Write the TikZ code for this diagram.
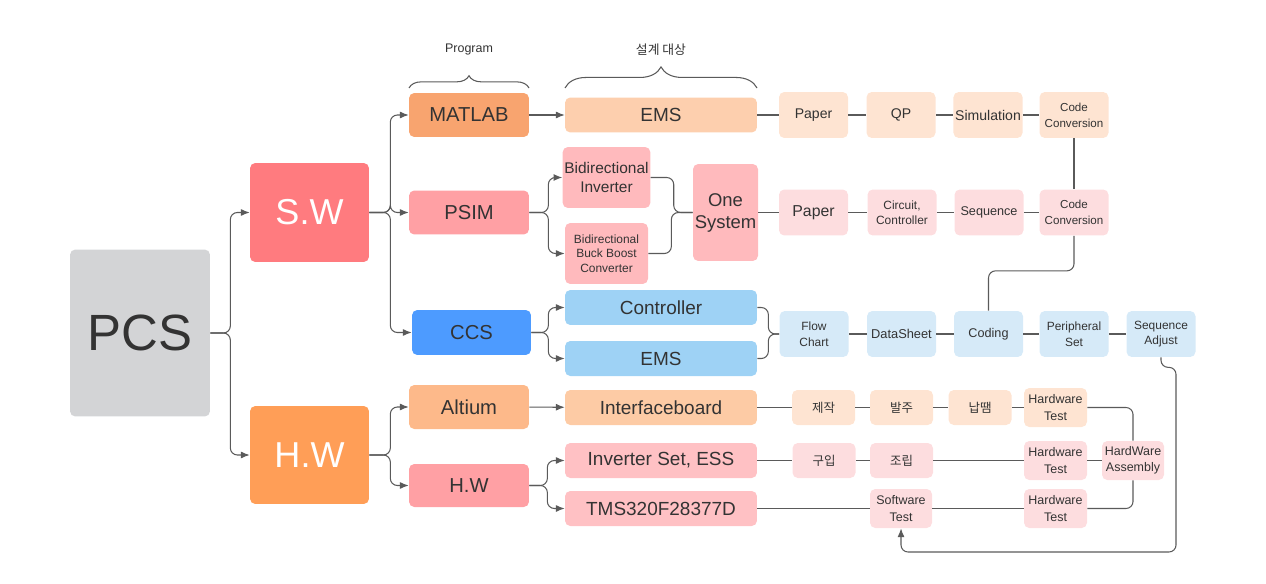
\documentclass[tikz,border=0pt]{standalone}
\usepackage{fontspec}
\setmainfont{Liberation Sans}
\newfontfamily\hangul{Noto Sans CJK KR}
\usetikzlibrary{arrows.meta, decorations.pathreplacing}

\definecolor{txt}{HTML}{333333}
\definecolor{wire}{HTML}{5A5A5A}
\definecolor{pcsgray}{HTML}{D3D4D6}
\definecolor{swred}{HTML}{FF7B7F}
\definecolor{hworange}{HTML}{FF9E57}
\definecolor{matorange}{HTML}{F8A46F}
\definecolor{psimpink}{HTML}{FFA0A4}
\definecolor{ccsblue}{HTML}{4D9BFF}
\definecolor{altpeach}{HTML}{FDB98A}
\definecolor{emspeach}{HTML}{FDCFAE}
\definecolor{invpink}{HTML}{FFBABD}
\definecolor{ctrlblue}{HTML}{9ED2F5}
\definecolor{ifpeach}{HTML}{FDCBA5}
\definecolor{setpink}{HTML}{FFC1C4}
\definecolor{peachrow}{HTML}{FEE4D2}
\definecolor{pinkrow}{HTML}{FDDDDF}
\definecolor{bluerow}{HTML}{D6EAF8}

\begin{document}
\begin{tikzpicture}[x = 0.02cm, y = -0.02cm,
        box/.style = {rounded corners = 3pt, inner sep = 1pt, align = center, text = txt},
        root/.style = {box, font = \fontsize{29}{34}\selectfont},
        branch/.style = {box, text = white, minimum width = 2.38cm, font = \fontsize{20.5}{24}\selectfont},
        tool/.style = {box, minimum width = 2.4cm, minimum height = 0.88cm, font = \fontsize{11.5}{14}\selectfont},
        target/.style = {box, minimum width = 3.84cm, minimum height = 0.7cm, font = \fontsize{10.8}{13}\selectfont},
        stepbox/.style = {box, minimum width = 1.38cm, minimum height = 0.92cm, font = \fontsize{6.8}{8.8}\selectfont},
        task/.style = {box, minimum width = 1.26cm, minimum height = 0.7cm, font = \fontsize{7.1}{9.3}\selectfont},
        line/.style = {draw = wire, line width = 0.6pt, rounded corners = 4pt},
        arrow/.style = {line, -{Latex[length = 5pt, width = 4pt]}},
        curly/.style = {draw = wire, line width = 0.6pt, decorate}]
    \useasboundingbox (0,0) rectangle (1266,584);

    % Draw the tree on the left:
    \node [root, fill = pcsgray, minimum width = 2.8cm, minimum height = 3.34cm] (PCS) at (140,333) {PCS};
    \node [branch, fill = swred, minimum height = 1.98cm] (SW) at (309.5,212.5) {S.W};
    \node [branch, fill = hworange, minimum height = 1.96cm] (HW) at (309.5,455) {H.W};

    \node [tool, fill = matorange] (MATLAB) at (469,115) {MATLAB};
    \node [tool, fill = psimpink] (PSIM) at (469,212.5) {PSIM};
    \node [tool, fill = ccsblue, minimum width = 2.38cm, minimum height = 0.9cm] (CCS) at (471.5,332.5) {CCS};
    \node [tool, fill = altpeach] (Altium) at (469,407) {Altium};
    \node [tool, fill = psimpink, minimum height = 0.86cm] (HWtool) at (469,485.5) {H.W};

    % Draw the design targets:
    \node [target, fill = emspeach] (EMS) at (661,115) {EMS};
    \node [box, fill = invpink, minimum width = 1.66cm, minimum height = 1.22cm,
        font = \fontsize{8.8}{10.4}\selectfont] (BiInv) at (606.5,177.5) {Bidirectional\\Inverter};
    \node [box, fill = invpink, minimum width = 1.66cm, minimum height = 1.22cm,
        font = \fontsize{6.8}{8.4}\selectfont] (BiBuck) at (606.5,253.5) {Bidirectional\\Buck Boost\\Converter};
    \node [box, fill = invpink, minimum width = 1.26cm, minimum height = 1.94cm,
        font = \fontsize{10.5}{12.5}\selectfont] (One) at (725.5,212.5) {One\\System};
    \node [target, fill = ctrlblue] (Ctrl) at (661,307.5) {Controller};
    \node [target, fill = ctrlblue] (EMSc) at (661,358.5) {EMS};
    \node [target, fill = ifpeach] (Iface) at (661,407.5) {Interfaceboard};
    \node [target, fill = setpink] (InvSet) at (661,460.5) {Inverter Set, ESS};
    \node [target, fill = setpink] (TMS) at (661,508.5) {TMS320F28377D};

    % Draw the work steps:
    \node [stepbox, fill = peachrow, font = \fontsize{8}{10}\selectfont] (PaperA) at (813.5,115) {Paper};
    \node [stepbox, fill = peachrow, font = \fontsize{8}{10}\selectfont] (QP) at (901,115) {QP};
    \node [stepbox, fill = peachrow, font = \fontsize{8}{10}\selectfont] (Sim) at (988,115) {Simulation};
    \node [stepbox, fill = peachrow, font = \fontsize{6.6}{9}\selectfont] (CodeA) at (1074,115) {Code\\Conversion};

    \node [stepbox, fill = pinkrow, font = \fontsize{9}{11}\selectfont] (PaperB) at (813.5,212.5) {Paper};
    \node [stepbox, fill = pinkrow] (Circ) at (902,212.5) {Circuit,\\Controller};
    \node [stepbox, fill = pinkrow, font = \fontsize{7.2}{9}\selectfont] (Seq) at (989,212.5) {Sequence};
    \node [stepbox, fill = pinkrow, font = \fontsize{6.6}{9}\selectfont] (CodeB) at (1074,212.5) {Code\\Conversion};

    \node [stepbox, fill = bluerow] (Flow) at (814,334) {Flow\\Chart};
    \node [stepbox, fill = bluerow, font = \fontsize{7.3}{9}\selectfont] (Data) at (901.5,334) {DataSheet};
    \node [stepbox, fill = bluerow, font = \fontsize{7.2}{9}\selectfont] (Coding) at (988.5,334) {Coding};
    \node [stepbox, fill = bluerow] (Peri) at (1074,334) {Peripheral\\Set};
    \node [stepbox, fill = bluerow] (SeqAdj) at (1161,334) {Sequence\\Adjust};

    \node [task, fill = peachrow] (Make) at (823.5,407.5) {\hangul 제작};
    \node [task, fill = peachrow] (Order) at (901.5,407.5) {\hangul 발주};
    \node [task, fill = peachrow] (Solder) at (980,407.5) {\hangul 납땜};
    \node [task, fill = peachrow, minimum height = 0.78cm] (HWTa) at (1055.5,407.5) {Hardware\\Test};

    \node [task, fill = pinkrow] (Buy) at (824,460.5) {\hangul 구입};
    \node [task, fill = pinkrow] (Build) at (901.5,460.5) {\hangul 조립};
    \node [task, fill = pinkrow, minimum height = 0.78cm] (HWTb) at (1055.5,460.5) {Hardware\\Test};
    \node [task, fill = pinkrow, minimum width = 1.24cm, minimum height = 0.78cm] (Asm) at (1133,460.5) {HardWare\\Assembly};

    \node [task, fill = pinkrow, minimum width = 1.24cm, minimum height = 0.78cm] (SWT) at (901,508.5) {Software\\Test};
    \node [task, fill = pinkrow, minimum height = 0.78cm] (HWTc) at (1055.5,508.5) {Hardware\\Test};

    % Draw the braces on top:
    \draw [curly, decoration = {brace, amplitude = 7pt}] (409,88) -- (529,88);
    \draw [curly, decoration = {brace, amplitude = 12pt}] (565,88) -- (757,88);
    \node [box, font = \fontsize{7.1}{9}\selectfont] (Prog) at (469,50) {Program};
    \node [box, font = \fontsize{7.3}{9}\selectfont\hangul] (Design) at (661,50) {설계 대상};

    % Draw the branching arrows:
    \foreach \to in {SW, HW}
        \draw [arrow] (PCS.east) -- ++(20,0) |- (\to.west);
    \foreach \to in {MATLAB, PSIM, CCS}
        \draw [arrow] (SW.east) -- ++(21,0) |- (\to.west);
    \foreach \to in {Altium, HWtool}
        \draw [arrow] (HW.east) -- ++(21,0) |- (\to.west);
    \foreach \to in {BiInv, BiBuck}
        \draw [arrow] (PSIM.east) -- ++(19,0) |- (\to.west);
    \foreach \to in {Ctrl, EMSc}
        \draw [arrow] (CCS.east) -- ++(17,0) |- (\to.west);
    \foreach \to in {InvSet, TMS}
        \draw [arrow] (HWtool.east) -- ++(18,0) |- (\to.west);
    \draw [arrow] (MATLAB) -- (EMS);
    \draw [arrow] (Altium) -- (Iface);

    % Draw the merging lines:
    \foreach \from in {BiInv, BiBuck}
        \draw [line] (\from.east) -- ++(23,0) |- (One.west);
    \foreach \from in {Ctrl, EMSc}
        \draw [line] (\from.east) -- ++(11,0) |- (Flow.west);

    % Draw the step chains:
    \foreach \a/\b in {EMS/PaperA, PaperA/QP, QP/Sim, Sim/CodeA,
            One/PaperB, PaperB/Circ, Circ/Seq, Seq/CodeB,
            Flow/Data, Data/Coding, Coding/Peri, Peri/SeqAdj,
            Iface/Make, Make/Order, Order/Solder, Solder/HWTa,
            InvSet/Buy, Buy/Build, Build/HWTb, HWTb/Asm,
            TMS/SWT, SWT/HWTc}
        \draw [line] (\a.east) -- (\b.west);
    \draw [line] (CodeA) -- (CodeB);
    \draw [line] (CodeB.south) -- ++(0,35) -| (Coding.north);
    \draw [line] (HWTa.east) -| (Asm.north);
    \draw [line] (HWTc.east) -| (Asm.south);
    \draw [arrow] (SeqAdj.south) -- ++(0,10) -| (1176,552) -| (SWT.south);
\end{tikzpicture}
\end{document}
